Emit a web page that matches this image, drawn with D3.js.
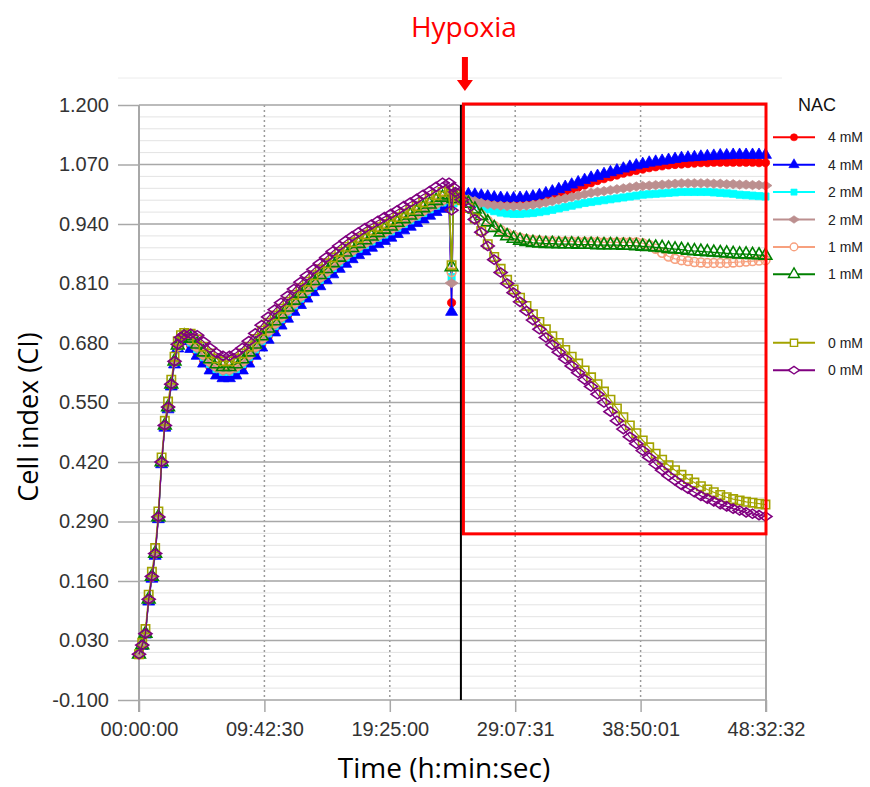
<!DOCTYPE html>
<html>
<head>
<meta charset="utf-8">
<script src="https://cdn.jsdelivr.net/npm/d3@7"></script>
<style>
  body { margin: 0; background: #fff; }
  text { font-family: "Liberation Sans", Arial, sans-serif; }
</style>
</head>
<body>
<script>
// sampling times in hours
var timeH = [0,0.25,0.5,0.75,1,1.25,1.5,1.75,2,2.25,2.5,2.75,3,3.25,
  3.5,4,4.5,5,5.5,6,6.5,7,7.5,8,8.5,9,9.5,10,10.5,11,11.5,12,12.5,13,13.5,14,14.5,15,15.5,16,16.5,17,17.5,18,18.5,19,19.5,20,20.5,21,21.5,22,22.5,23,23.5,24,
  24.2,24.35,
  24.5,25,25.5,26,26.5,27,27.5,28,28.5,29,29.5,30,30.5,31,31.5,32,32.5,33,33.5,34,34.5,35,35.5,36,36.5,37,37.5,38,38.5,39,39.5,40,40.5,41,41.5,42,42.5,43,43.5,44,44.5,45,45.5,46,46.5,47,47.5,48,48.5];

var ciRed4 = [0.000,0.020,0.045,0.118,0.168,0.218,0.298,0.418,0.498,0.538,0.588,0.636,0.671,0.686,
  0.690,0.674,0.659,0.642,0.627,0.616,0.610,0.610,0.616,0.627,0.642,0.659,0.677,0.694,0.710,0.725,0.740,0.755,0.770,0.784,0.798,0.811,0.824,0.837,0.849,0.860,0.870,0.879,0.887,0.895,0.903,0.910,0.917,0.925,0.933,0.941,0.949,0.957,0.965,0.973,0.980,0.985,
  0.768,0.990,
  1.000,1.000,0.998,0.996,0.993,0.990,0.988,0.986,0.985,0.985,0.986,0.988,0.990,0.993,0.997,1.001,1.005,1.010,1.015,1.020,1.025,1.030,1.035,1.039,1.043,1.047,1.051,1.054,1.057,1.060,1.063,1.065,1.067,1.069,1.070,1.071,1.072,1.073,1.074,1.074,1.075,1.075,1.075,1.075,1.075,1.075,1.075,1.074,1.074];

var ciBlue4 = [0.000,0.018,0.043,0.115,0.165,0.215,0.295,0.415,0.495,0.535,0.585,0.633,0.668,0.684,
  0.688,0.667,0.652,0.635,0.620,0.609,0.603,0.603,0.609,0.620,0.635,0.652,0.670,0.687,0.703,0.718,0.733,0.748,0.763,0.777,0.791,0.804,0.817,0.830,0.842,0.853,0.863,0.872,0.880,0.888,0.896,0.903,0.910,0.918,0.926,0.934,0.942,0.950,0.958,0.966,0.973,0.978,
  0.748,0.995,
  1.004,1.005,1.005,1.004,1.002,1.000,0.998,0.997,0.996,0.996,0.997,0.998,1.000,1.003,1.007,1.011,1.016,1.021,1.026,1.031,1.036,1.041,1.045,1.049,1.053,1.057,1.061,1.065,1.068,1.071,1.074,1.076,1.078,1.080,1.082,1.084,1.085,1.086,1.087,1.088,1.089,1.090,1.090,1.091,1.091,1.091,1.091,1.091,1.091];

var ciCyan2 = [0.000,0.020,0.045,0.120,0.170,0.220,0.300,0.420,0.500,0.540,0.590,0.638,0.672,0.687,
  0.692,0.681,0.666,0.649,0.634,0.623,0.617,0.617,0.623,0.634,0.649,0.666,0.684,0.701,0.717,0.732,0.747,0.762,0.777,0.791,0.805,0.818,0.831,0.844,0.856,0.867,0.877,0.886,0.894,0.902,0.910,0.917,0.924,0.932,0.940,0.948,0.956,0.964,0.972,0.980,0.987,0.992,
  0.824,0.985,
  1.000,0.995,0.990,0.985,0.978,0.972,0.968,0.965,0.963,0.962,0.962,0.963,0.964,0.966,0.968,0.971,0.974,0.977,0.980,0.983,0.986,0.988,0.990,0.992,0.994,0.996,0.998,1.000,1.002,1.004,1.005,1.006,1.007,1.008,1.009,1.010,1.010,1.010,1.010,1.010,1.009,1.008,1.007,1.006,1.004,1.003,1.002,1.001,1.000];

var ciRosy2 = [0.000,0.020,0.045,0.120,0.170,0.220,0.300,0.420,0.500,0.540,0.590,0.638,0.672,0.687,
  0.693,0.683,0.668,0.651,0.636,0.625,0.619,0.619,0.625,0.636,0.651,0.668,0.686,0.703,0.719,0.734,0.749,0.764,0.779,0.793,0.807,0.820,0.833,0.846,0.858,0.869,0.879,0.888,0.896,0.904,0.912,0.919,0.926,0.934,0.942,0.950,0.958,0.966,0.974,0.982,0.989,0.994,
  0.811,0.990,
  1.002,0.998,0.994,0.990,0.986,0.983,0.981,0.980,0.979,0.979,0.979,0.980,0.982,0.984,0.987,0.990,0.993,0.996,0.999,1.002,1.005,1.008,1.010,1.012,1.014,1.016,1.018,1.020,1.022,1.023,1.024,1.025,1.026,1.027,1.028,1.029,1.029,1.029,1.029,1.029,1.028,1.028,1.027,1.027,1.026,1.026,1.025,1.025,1.024];

var ciSalmon1 = [0.000,0.020,0.045,0.120,0.170,0.220,0.300,0.420,0.500,0.540,0.590,0.639,0.673,0.688,
  0.694,0.687,0.673,0.656,0.641,0.630,0.624,0.624,0.630,0.641,0.656,0.673,0.691,0.708,0.724,0.739,0.754,0.769,0.784,0.798,0.812,0.825,0.838,0.851,0.863,0.874,0.884,0.893,0.901,0.909,0.917,0.924,0.931,0.939,0.947,0.955,0.963,0.971,0.979,0.987,0.994,0.999,
  0.835,0.993,
  1.000,0.995,0.986,0.973,0.960,0.947,0.936,0.927,0.920,0.914,0.910,0.907,0.905,0.904,0.903,0.903,0.902,0.902,0.902,0.901,0.901,0.901,0.901,0.900,0.900,0.900,0.900,0.900,0.900,0.898,0.894,0.886,0.877,0.869,0.864,0.861,0.859,0.857,0.856,0.855,0.855,0.855,0.855,0.856,0.857,0.858,0.859,0.860,0.861];

var ciGreen1 = [0.000,0.020,0.045,0.120,0.170,0.220,0.300,0.420,0.500,0.540,0.590,0.640,0.675,0.690,
  0.695,0.690,0.677,0.660,0.645,0.634,0.628,0.628,0.634,0.645,0.660,0.677,0.695,0.712,0.728,0.743,0.758,0.773,0.788,0.802,0.816,0.829,0.842,0.855,0.867,0.878,0.888,0.897,0.905,0.913,0.921,0.928,0.935,0.943,0.951,0.959,0.967,0.975,0.983,0.991,0.998,1.003,
  0.846,0.995,
  1.000,0.995,0.985,0.972,0.958,0.944,0.932,0.922,0.914,0.908,0.904,0.901,0.899,0.898,0.897,0.897,0.896,0.896,0.896,0.895,0.895,0.895,0.894,0.894,0.894,0.894,0.893,0.893,0.892,0.891,0.890,0.889,0.888,0.886,0.885,0.884,0.882,0.881,0.880,0.879,0.878,0.877,0.876,0.875,0.874,0.874,0.873,0.872,0.871];

var ciOlive0 = [0.000,0.025,0.055,0.130,0.180,0.232,0.312,0.430,0.510,0.552,0.600,0.650,0.684,0.697,
  0.702,0.700,0.688,0.672,0.657,0.646,0.640,0.640,0.646,0.657,0.672,0.689,0.707,0.724,0.740,0.755,0.770,0.785,0.800,0.814,0.828,0.841,0.854,0.867,0.879,0.890,0.900,0.909,0.917,0.925,0.933,0.940,0.947,0.955,0.963,0.971,0.979,0.987,0.995,1.003,1.010,1.014,
  0.850,1.000,
  1.005,0.992,0.975,0.952,0.925,0.896,0.868,0.842,0.818,0.797,0.779,0.761,0.743,0.726,0.710,0.695,0.680,0.665,0.650,0.635,0.620,0.605,0.590,0.574,0.556,0.537,0.518,0.500,0.483,0.467,0.452,0.438,0.425,0.413,0.402,0.392,0.383,0.375,0.367,0.360,0.354,0.348,0.343,0.339,0.336,0.333,0.331,0.329,0.327];

var ciPurple0 = [0.000,0.020,0.045,0.120,0.170,0.220,0.300,0.420,0.500,0.540,0.590,0.640,0.677,0.692,
  0.698,0.700,0.697,0.683,0.669,0.658,0.652,0.652,0.658,0.669,0.684,0.701,0.719,0.737,0.753,0.768,0.783,0.798,0.813,0.827,0.841,0.854,0.867,0.880,0.892,0.903,0.913,0.922,0.931,0.939,0.947,0.955,0.962,0.970,0.979,0.987,0.995,1.004,1.012,1.021,1.030,1.030,
  0.970,1.020,
  1.010,0.993,0.975,0.950,0.922,0.892,0.862,0.834,0.810,0.790,0.770,0.750,0.730,0.710,0.692,0.676,0.660,0.645,0.630,0.615,0.600,0.585,0.568,0.550,0.530,0.510,0.492,0.475,0.460,0.445,0.430,0.415,0.402,0.390,0.380,0.370,0.362,0.354,0.346,0.340,0.334,0.328,0.323,0.318,0.314,0.310,0.307,0.304,0.301];

var seriesLabels = ["4 mM","4 mM","2 mM","2 mM","1 mM","1 mM","0 mM","0 mM"];
var seriesValues = [ciRed4, ciBlue4, ciCyan2, ciRosy2, ciSalmon1, ciGreen1, ciOlive0, ciPurple0];
var seriesColors = ["#ff0000","#0000ff","#00ffff","#bc8f8f","#f7a07e","#008000","#a3a300","#800080"];
var seriesShapes = ["circle","triangle","square","diamond","circle","triangle","square","diamond"];
var seriesFilled = [true,true,true,true,false,false,false,false];
var legendSlots = [0,1,2,3,4,5,7.5,8.5];

var yTicks = [-0.1,0.03,0.16,0.29,0.42,0.55,0.68,0.81,0.94,1.07,1.2];
var xTickHours = [0, 9.7083, 19.4167, 29.1253, 38.8336, 48.5422];
var xTickLabels = ["00:00:00","09:42:30","19:25:00","29:07:31","38:50:01","48:32:32"];
var hypoxiaH = 25.0;

var width = 870,
    height = 787;

var x = d3.scaleLinear().domain([0, 48.5422]).range([139, 766]);
var y = d3.scaleLinear().domain([-0.1, 1.2]).range([700, 105]);

var svg = d3.select("body").append("svg")
    .attr("width", width)
    .attr("height", height);

// faint top border
svg.append("line")
    .attr("x1", 118).attr("x2", 782).attr("y1", 78).attr("y2", 78)
    .attr("stroke", "#ececec").attr("stroke-width", 1);

// minor horizontal grid
var minor = d3.range(-0.1, 1.2001, 0.026);
svg.append("g").selectAll("line")
    .data(minor)
    .enter().append("line")
      .attr("x1", x(0)).attr("x2", x(48.5422))
      .attr("y1", function(d) { return y(d); })
      .attr("y2", function(d) { return y(d); })
      .attr("stroke", "#e3e3e3").attr("stroke-width", 1);

// dotted vertical grid
svg.append("g").selectAll("line")
    .data(xTickHours.slice(1, 5))
    .enter().append("line")
      .attr("x1", function(d) { return x(d); })
      .attr("x2", function(d) { return x(d); })
      .attr("y1", y(1.2)).attr("y2", y(-0.1))
      .attr("stroke", "#9a9a9a").attr("stroke-width", 1.5)
      .attr("stroke-dasharray", "2,3");

// y axis with major grid
var fmt = d3.format(".3f");
var yAxis = d3.axisLeft(y)
    .tickValues(yTicks)
    .tickSize(21)
    .tickPadding(9)
    .tickFormat(function(d) { return fmt(d).replace("\u2212", "-"); });

var gy = svg.append("g")
    .attr("transform", "translate(" + x(0) + ",0)")
    .call(yAxis);
gy.select(".domain").remove();
gy.selectAll(".tick line").attr("stroke", "#a8a8a8").attr("stroke-width", 1.5);
gy.selectAll(".tick text")
    .attr("fill", "#333").style("font-size", "20px");

svg.append("g").selectAll("line")
    .data(yTicks)
    .enter().append("line")
      .attr("x1", x(0)).attr("x2", x(48.5422))
      .attr("y1", function(d) { return y(d); })
      .attr("y2", function(d) { return y(d); })
      .attr("stroke", "#a8a8a8").attr("stroke-width", 1.5);

// x axis
var xAxis = d3.axisBottom(x)
    .tickValues(xTickHours)
    .tickSize(12)
    .tickPadding(10)
    .tickFormat(function(d, i) { return xTickLabels[i]; });

var gx = svg.append("g")
    .attr("transform", "translate(0," + y(-0.1) + ")")
    .call(xAxis);
gx.select(".domain").remove();
gx.selectAll(".tick line").attr("stroke", "#a8a8a8").attr("stroke-width", 1.5);
gx.selectAll(".tick text")
    .attr("fill", "#333").style("font-size", "20px");

// left and right frame lines
[0, 48.5422].forEach(function(t) {
  svg.append("line")
      .attr("x1", x(t)).attr("x2", x(t))
      .attr("y1", y(1.2)).attr("y2", y(-0.1) + 12)
      .attr("stroke", "#a8a8a8").attr("stroke-width", 2);
});

function symbolPath(shape, filled, big) {
  var k = big ? 1.35 : 1;
  if (shape == "circle") return d3.symbol(d3.symbolCircle).size((filled ? 40 : 46) * k)();
  if (shape == "triangle") return d3.symbol(d3.symbolTriangle).size((filled ? 46 : 52) * k)();
  if (shape == "square") return d3.symbol(d3.symbolSquare).size((filled ? 38 : 52) * k)();
  var w = big ? 6.5 : 5.5, h = big ? 4.6 : 3.8;
  return "M-" + w + ",0L0,-" + h + "L" + w + ",0L0," + h + "Z";
}

var line = d3.line()
    .x(function(d) { return x(d[0]); })
    .y(function(d) { return y(d[1]); });

var gData = svg.append("g");

seriesValues.forEach(function(vals, i) {
  var pts = timeH.map(function(t, j) { return [t, vals[j]]; });
  var col = seriesColors[i];
  gData.append("path")
      .datum(pts)
      .attr("d", line)
      .attr("fill", "none")
      .attr("stroke", col)
      .attr("stroke-width", 1.2);
  var sym = symbolPath(seriesShapes[i], seriesFilled[i], true);
  gData.append("g").selectAll("path")
      .data(pts)
      .enter().append("path")
        .attr("transform", function(d) { return "translate(" + x(d[0]) + "," + y(d[1]) + ")"; })
        .attr("d", sym)
        .attr("fill", seriesFilled[i] ? col : "none")
        .attr("stroke", col)
        .attr("stroke-width", seriesFilled[i] ? 0.8 : 1.6);
});

// hypoxia line and box
svg.append("line")
    .attr("x1", x(hypoxiaH) - 1).attr("x2", x(hypoxiaH) - 1)
    .attr("y1", y(1.2)).attr("y2", y(-0.1))
    .attr("stroke", "#000").attr("stroke-width", 2);

svg.append("rect")
    .attr("x", x(hypoxiaH) + 1.5)
    .attr("y", y(1.2) - 1)
    .attr("width", x(48.5422) - x(hypoxiaH) - 1.5)
    .attr("height", y(0.263) - y(1.2) + 1)
    .attr("fill", "none")
    .attr("stroke", "#ff0000")
    .attr("stroke-width", 3);

// hypoxia label + arrow
var ax = x(hypoxiaH) + 3;
svg.append("text")
    .attr("x", ax - 1).attr("y", 37)
    .attr("text-anchor", "middle")
    .attr("fill", "#ff0000")
    .style("font-family", "'Open Sans', sans-serif")
    .style("font-size", "28px")
    .text("Hypoxia");

svg.append("path")
    .attr("d", "M" + (ax - 3) + ",57L" + (ax + 3) + ",57L" + (ax + 3) + ",80L" + (ax + 8) + ",80L" + ax + ",91L" + (ax - 8) + ",80L" + (ax - 3) + ",80Z")
    .attr("fill", "#ff0000");

// legend
var legend = svg.append("g");
legend.append("text")
    .attr("x", 817).attr("y", 111)
    .attr("text-anchor", "middle")
    .attr("fill", "#111")
    .style("font-size", "18px")
    .text("NAC");

var rows = legend.selectAll(".row")
    .data(seriesLabels)
    .enter().append("g")
      .attr("class", "row")
      .attr("transform", function(d, i) { return "translate(0," + (137.3 + legendSlots[i] * 27.4) + ")"; });

rows.append("line")
    .attr("x1", 773).attr("x2", 815)
    .attr("stroke", function(d, i) { return seriesColors[i]; })
    .attr("stroke-width", 2);
rows.append("path")
    .attr("transform", "translate(794,0)")
    .attr("d", function(d, i) { return symbolPath(seriesShapes[i], seriesFilled[i], false); })
    .attr("fill", function(d, i) { return seriesFilled[i] ? seriesColors[i] : "#fff"; })
    .attr("stroke", function(d, i) { return seriesColors[i]; })
    .attr("stroke-width", function(d, i) { return seriesFilled[i] ? 0.6 : 1.4; });
rows.append("text")
    .attr("x", 828).attr("y", 5)
    .attr("fill", "#222")
    .style("font-size", "14px")
    .text(function(d) { return d; });

// axis titles
svg.append("text")
    .attr("transform", "translate(38,417) rotate(-90)")
    .attr("text-anchor", "middle")
    .attr("fill", "#000")
    .style("font-family", "'Open Sans', sans-serif")
    .style("font-size", "27px")
    .text("Cell index (CI)");

svg.append("text")
    .attr("x", 444).attr("y", 778)
    .attr("text-anchor", "middle")
    .attr("fill", "#000")
    .style("font-family", "'Open Sans', sans-serif")
    .style("font-size", "28px")
    .text("Time (h:min:sec)");
</script>
</body>
</html>
